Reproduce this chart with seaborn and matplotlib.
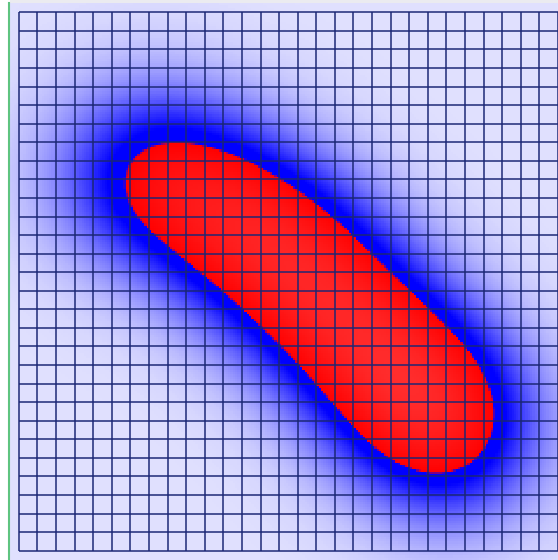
import numpy as np
import pandas as pd
import seaborn as sns
import matplotlib.pyplot as plt
from matplotlib.colors import ListedColormap
from matplotlib.lines import Line2D
from matplotlib.patches import Rectangle

# Ridge of the hot band, in grid cells (column, row counted from top-left)
ridge_col = [6.10, 7.36, 8.70, 10.04, 11.28, 12.46, 13.64, 14.82,
             16.00, 17.19, 18.37, 19.55, 20.73, 21.80, 22.77, 23.52]
ridge_row = [8.60, 8.85, 9.40, 9.95, 10.70, 11.60, 12.60, 13.66,
             14.84, 16.08, 17.31, 18.58, 19.82, 20.95, 22.02, 22.95]
ridge_weight = [1.65, 0.70, 0.70, 0.78, 0.92, 1.06, 1.12, 1.14,
                1.14, 1.14, 1.15, 1.18, 1.20, 1.20, 1.22, 1.70]

n_cells = 29          # grid is 29 x 29 cells
res = 8               # heat samples per cell
spread = 3.4          # kernel radius (cells)
t_blue = 2.87         # intensity where the blue glow becomes opaque
t_red = 3.45          # intensity where the band turns red
t_top = 6.6

bg_color = "#e0e0fe"
grid_color = "#1a2674"

# heat field sampled over the visible area (-0.5 .. 29.0 cols, -0.5 .. 29.5 rows)
cols = -0.5 + (np.arange(int(29.5 * res)) + 0.5) / res
rows = -0.5 + (np.arange(30 * res) + 0.5) / res
cc, rr = np.meshgrid(cols, rows)
heat = np.zeros_like(cc)
for c, r, w in zip(ridge_col, ridge_row, ridge_weight):
    heat += w * np.exp(-((cc - c) ** 2 + (rr - r) ** 2) / (2 * spread ** 2))
heat_df = pd.DataFrame(heat, index=rows, columns=cols)

# transparent -> blue -> red palette (heatmap.js look)
v = np.linspace(0, t_top, 512)
rgba = np.zeros((512, 4))
rgba[:, 3] = np.clip(v / t_blue, 0, 1)
mix = np.clip((v - t_red) / 0.08 + 0.5, 0, 1)
shade = np.clip((v - t_red) / (t_top - t_red), 0, 1) * 0.2
rgba[:, 0] = mix
rgba[:, 1] = mix * shade
rgba[:, 2] = (1 - mix) + mix * shade
rgba[:, 3] = np.maximum(rgba[:, 3], mix)
cmap = ListedColormap(rgba)

fig = plt.figure(figsize=(5.58, 5.60), dpi=100, facecolor="white")
ax = fig.add_axes([9.5 / 558, 0, 1 - 9.5 / 558, 557 / 560])
ax.set_facecolor(bg_color)

sns.heatmap(heat_df, ax=ax, cmap=cmap, vmin=0, vmax=t_top, cbar=False,
            xticklabels=False, yticklabels=False)

ax.set_xlim(0, 29.5 * res)
ax.set_ylim(30 * res, 0)

# grid lines on top of the heat layer
lines = [(k + 0.5) * res for k in range(n_cells + 1)]
ax.vlines(lines, lines[0], lines[-1], color=grid_color, lw=1.2, alpha=0.9, zorder=3)
ax.hlines(lines, lines[0], lines[-1], color=grid_color, lw=1.2, alpha=0.9, zorder=3)
ax.tick_params(length=0)
ax.set_xlabel("")
ax.set_ylabel("")
for s in ax.spines.values():
    s.set_visible(False)

# thin top strip and green left rule of the frame
fig.add_artist(Rectangle((9.5 / 558, 557 / 560), 1, 3 / 560,
                         transform=fig.transFigure, color="#ebebf0", lw=0))
fig.add_artist(Line2D([8.5 / 558, 8.5 / 558], [0, 557 / 560],
                      transform=fig.transFigure, color="#5fc480", lw=1.5))

fig.savefig("out.png", dpi=100)
